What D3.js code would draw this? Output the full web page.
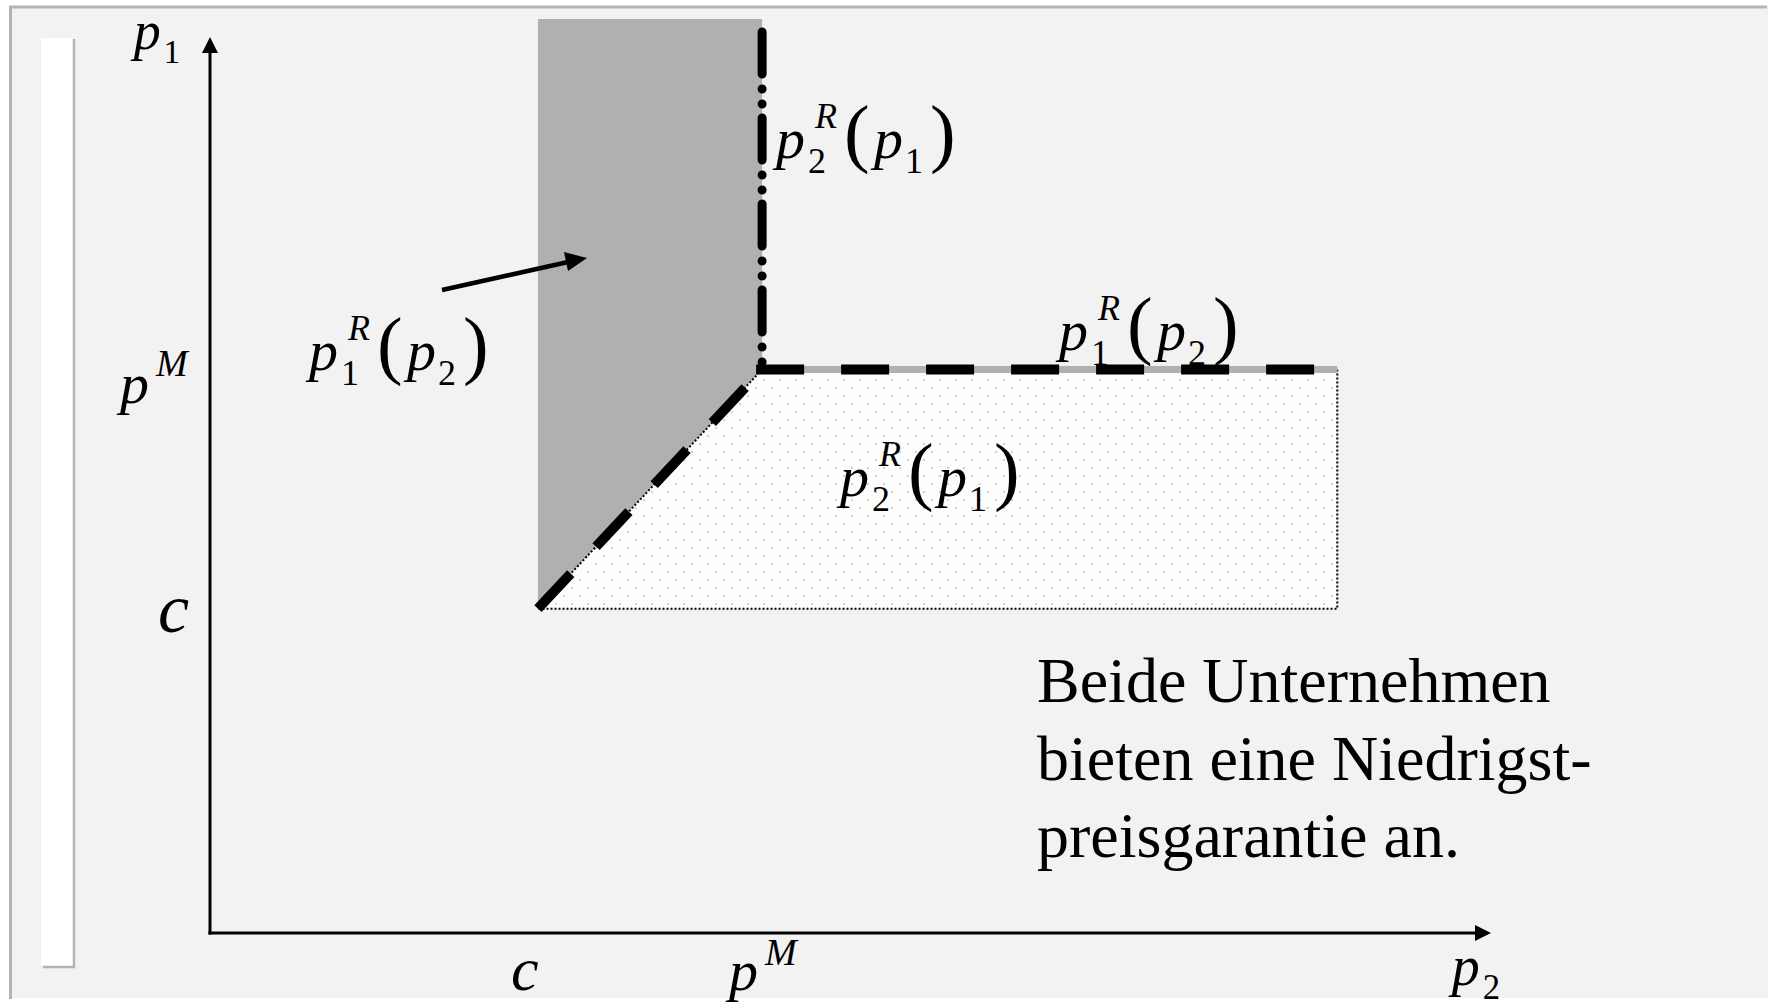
<!DOCTYPE html>
<html>
<head>
<meta charset="utf-8">
<script src="https://cdn.jsdelivr.net/npm/d3@7"></script>
<style>
  body { margin: 0; background: #fff; }
  text { font-family: "Liberation Serif", "Times New Roman", serif; fill: #000; }
</style>
</head>
<body>
<div id="chart"></div>
<script>
// price levels marked on both axes
const levelNames = ["c", "p"];
const levelSups = ["", "M"];
const levelsOnP2 = [2.56, 4.31];   // horizontal axis (p2)
const levelsOnP1 = [3.62, 6.29];   // vertical axis (p1)
const p2RegionEnd = 8.8;           // right end of the dotted region
const p1RegionTop = 10.2;          // top of the grey region
const axisMax = 10;

const noteLines = ["Beide Unternehmen", "bieten eine Niedrigst-", "preisgarantie an."];

const width = 1773, height = 1006;

const svg = d3.select("#chart")
    .append("svg")
    .attr("width", width)
    .attr("height", height);

const x = d3.scaleLinear().domain([0, axisMax]).range([210, 1491]);
const y = d3.scaleLinear().domain([0, axisMax]).range([933, 37]);

const [c2, pM2] = levelsOnP2;
const [c1, pM1] = levelsOnP1;

/* slide frame */
svg.append("rect").attr("x", 9).attr("y", 6).attr("width", 1759).attr("height", 992).attr("fill", "#f2f2f2");
svg.append("line").attr("x1", 9).attr("x2", 1767).attr("y1", 7).attr("y2", 7)
    .attr("stroke", "#b3b3b3").attr("stroke-width", 3);
svg.append("line").attr("x1", 10.5).attr("x2", 10.5).attr("y1", 6).attr("y2", 999)
    .attr("stroke", "#b3b3b3").attr("stroke-width", 3);
svg.append("rect").attr("x", 41).attr("y", 38).attr("width", 32).attr("height", 928).attr("fill", "#fff");
svg.append("path").attr("d", "M74,39V967H43")
    .attr("fill", "none").attr("stroke", "#b3b3b3").attr("stroke-width", 2.5);

/* dot pattern */
const pat = svg.append("defs").append("pattern")
    .attr("id", "dots").attr("patternUnits", "userSpaceOnUse")
    .attr("width", 16).attr("height", 16);
pat.append("rect").attr("width", 16).attr("height", 16).attr("fill", "#fdfdfd");
pat.append("circle").attr("cx", 4).attr("cy", 4).attr("r", 1).attr("fill", "#c2c2c2");
pat.append("circle").attr("cx", 12).attr("cy", 12).attr("r", 1).attr("fill", "#c2c2c2");

const line = d3.line().x(d => x(d[0])).y(d => y(d[1]));

/* grey region: p1 reacts to p2 */
const greyRegion = [[c2, p1RegionTop], [pM2, p1RegionTop], [pM2, pM1], [c2, c1]];
svg.append("path").attr("d", line(greyRegion) + "Z").attr("fill", "#b0b0b0");

/* dotted region */
const dotRegion = [[pM2, pM1], [p2RegionEnd, pM1], [p2RegionEnd, c1], [c2, c1]];
svg.append("path").attr("d", line(dotRegion) + "Z").attr("fill", "url(#dots)");

// thin dotted outlines
svg.append("path").attr("d", line([[p2RegionEnd, pM1], [p2RegionEnd, c1], [c2, c1], [pM2, pM1]]))
    .attr("fill", "none").attr("stroke", "#000").attr("stroke-width", 2)
    .attr("stroke-dasharray", "2,2");

/* math labels: s = ink start, b = baseline */
function mathLabel(s, b, size, parts) {
    const k = size / 58;
    const g = svg.append("g").attr("transform", `translate(${s},${b}) scale(${k})`);
    g.append("text").attr("x", 4).attr("font-style", "italic").attr("font-size", 58).text(parts.base);
    if (parts.sub) g.append("text").attr("x", 36).attr("y", 15).attr("font-size", 36).text(parts.sub);
    if (parts.sup) g.append("text").attr("x", parts.supX || 43).attr("y", parts.supY || -30)
        .attr("font-style", "italic").attr("font-size", parts.supSize || 36).text(parts.sup);
    if (parts.arg) {
        g.append("text").attr("x", 72).attr("font-size", 77).text("(");
        g.append("text").attr("x", 102).attr("font-style", "italic").attr("font-size", 58).text(parts.arg);
        g.append("text").attr("x", 133).attr("y", 15).attr("font-size", 36).text(parts.argSub);
        g.append("text").attr("x", 158).attr("font-size", 77).text(")");
    }
}

const p1R = { base: "p", sub: "1", sup: "R", arg: "p", argSub: "2" };
const p2R = { base: "p", sub: "2", sup: "R", arg: "p", argSub: "1" };

// label on the horizontal reaction line sits behind the dashes
mathLabel(1055, 350, 58, p1R);

/* reaction lines */
svg.append("path").attr("d", line([[pM2, pM1], [p2RegionEnd, pM1]]))
    .attr("stroke", "#b0b0b0").attr("stroke-width", 7).attr("fill", "none");

svg.append("path")
    .attr("d", line([[x.invert(x(pM2) - 6), pM1], [p2RegionEnd, pM1]]))
    .attr("stroke", "#000").attr("stroke-width", 10).attr("fill", "none")
    .attr("stroke-dasharray", "48,37");

svg.append("path").attr("d", line([[c2, c1], [pM2, pM1]]))
    .attr("stroke", "#000").attr("stroke-width", 10).attr("fill", "none")
    .attr("stroke-dasharray", "48,37");

svg.append("path").attr("d", line([[pM2, y.invert(32)], [pM2, pM1]]))
    .attr("stroke", "#000").attr("stroke-width", 9).attr("fill", "none")
    .attr("stroke-linecap", "round")
    .attr("stroke-dasharray", "42,15,0,15,0,14");

/* axes */
svg.append("line").attr("x1", x(0)).attr("x2", x(0)).attr("y1", y(0) + 1.5).attr("y2", y(axisMax) + 14)
    .attr("stroke", "#000").attr("stroke-width", 3);
svg.append("path")
    .attr("d", `M${x(0)},${y(axisMax)}L${x(0) - 8},${y(axisMax) + 16}L${x(0) + 8},${y(axisMax) + 16}Z`)
    .attr("fill", "#000");
svg.append("line").attr("x1", x(0) - 1.5).attr("x2", x(axisMax) - 14).attr("y1", y(0)).attr("y2", y(0))
    .attr("stroke", "#000").attr("stroke-width", 3);
svg.append("path")
    .attr("d", `M${x(axisMax)},${y(0)}L${x(axisMax) - 16},${y(0) - 8}L${x(axisMax) - 16},${y(0) + 8}Z`)
    .attr("fill", "#000");

/* annotation arrow to grey region */
svg.append("line").attr("x1", 442).attr("y1", 290).attr("x2", 568).attr("y2", 262)
    .attr("stroke", "#000").attr("stroke-width", 4.5);
svg.append("path").attr("d", "M587,258L564,252L568,271Z").attr("fill", "#000");

/* curve labels */
mathLabel(772, 158, 58, p2R);
mathLabel(305, 370, 58, p1R);
mathLabel(836, 496, 58, p2R);

/* axis names */
mathLabel(130, 49, 54, { base: "p", sub: "1" });
mathLabel(1448, 985, 56, { base: "p", sub: "2" });

/* level labels */
// c
svg.append("text").attr("x", 158).attr("y", y(c1) + 23).attr("font-style", "italic")
    .attr("font-size", 70).text(levelNames[0]);
svg.append("text").attr("x", x(c2) - 27).attr("y", 990).attr("font-style", "italic")
    .attr("font-size", 62).text(levelNames[0]);
// p^M
mathLabel(116, y(pM1) + 34, 58, { base: levelNames[1], sup: levelSups[1], supX: 40, supY: -27, supSize: 38 });
mathLabel(x(pM2) - 37, 990, 58, { base: levelNames[1], sup: levelSups[1], supX: 40, supY: -25, supSize: 38 });

/* note */
svg.append("g").selectAll("text")
    .data(noteLines)
    .enter()
    .append("text")
    .attr("x", 1037)
    .attr("y", (d, i) => 702 + i * 77.5)
    .attr("font-size", 64)
    .text(d => d);
</script>
</body>
</html>
